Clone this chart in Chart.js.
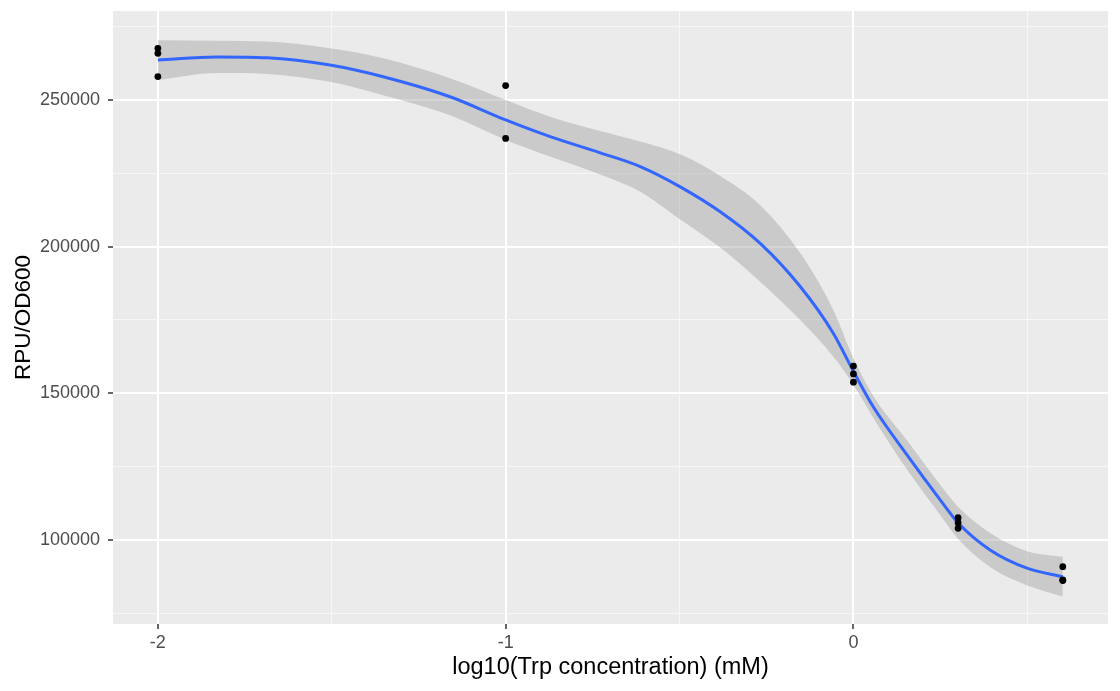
<!DOCTYPE html>
<html>
<head>
<meta charset="utf-8">
<script src="https://cdn.jsdelivr.net/npm/chart.js@4.4.1/dist/chart.umd.min.js"></script>
<style>
  body { margin: 0; background: #ffffff; }
  #wrap { width: 1120px; height: 691px; }
</style>
</head>
<body>
<div id="wrap"><canvas id="doseChart"></canvas></div>
<script>
// measured replicates
const pointX = [-2, -2, -2, -1, -1, 0, 0, 0, 0.301, 0.301, 0.301, 0.602, 0.602, 0.602];
const pointY = [267600, 265900, 258000, 254900, 236900, 159300, 156600, 153800, 107600, 105900, 104000, 90900, 86400, 86200];

// loess fit with confidence band
const curveX = [-2.0, -1.83, -1.686, -1.505, -1.352, -1.16, -1.0, -0.872, -0.728, -0.613, -0.498, -0.383, -0.268, -0.153, -0.058, 0, 0.057, 0.154, 0.25, 0.302, 0.393, 0.499, 0.602];
const curveFit = [263600, 264700, 264400, 261900, 257900, 251100, 243200, 237500, 232000, 227300, 220400, 211900, 201100, 186400, 170500, 157500, 145400, 129000, 113600, 105700, 96600, 90400, 87500];
const curveUpper = [270400, 270200, 269900, 267600, 264200, 257400, 250000, 244300, 239400, 235850, 231500, 224100, 214150, 197800, 178450, 162050, 149100, 134000, 118750, 111150, 102400, 96200, 94300];
const curveLower = [256800, 259200, 258900, 256200, 251600, 244800, 236400, 230700, 224600, 218750, 209300, 199700, 188050, 175000, 162550, 152950, 141700, 124000, 108450, 100250, 90800, 84600, 80700];

// axis breaks
const xMajor = [-2, -1, 0];
const xMinor = [-1.5, -0.5, 0.5];
const yMajor = [100000, 150000, 200000, 250000];
const yMinor = [75000, 125000, 175000, 225000, 275000];

const toXY = (xs, ys) => xs.map((x, i) => ({ x: x, y: ys[i] }));
const breaks = (major, minor) => major.concat(minor).sort((a, b) => a - b).map((v) => ({ value: v }));
const isMajor = (list, v) => list.some((m) => Math.abs(m - v) < 1e-9);

const fam = "'Liberation Sans', Arial, sans-serif";
const tickFont = { family: fam, size: 18 };

const panelBg = {
  id: "panelBg",
  beforeDraw(chart) {
    const a = chart.chartArea;
    chart.ctx.save();
    chart.ctx.fillStyle = "#EBEBEB";
    chart.ctx.fillRect(a.left, a.top, a.right - a.left, a.bottom - a.top);
    chart.ctx.restore();
  },
};

const doseChart = new Chart(document.getElementById("doseChart"), {
  type: "scatter",
  data: {
    datasets: [
      {
        label: "replicates",
        data: toXY(pointX, pointY),
        backgroundColor: "#000000",
        borderWidth: 0,
        pointRadius: 3.4,
      },
      {
        label: "fit",
        data: toXY(curveX, curveFit),
        showLine: true,
        borderColor: "#3366FF",
        borderWidth: 3,
        pointRadius: 0,
        cubicInterpolationMode: "monotone",
      },
      {
        label: "upper",
        data: toXY(curveX, curveUpper),
        showLine: true,
        borderColor: "transparent",
        pointRadius: 0,
        cubicInterpolationMode: "monotone",
        fill: "+1",
        backgroundColor: "rgba(153,153,153,0.4)",
      },
      {
        label: "lower",
        data: toXY(curveX, curveLower),
        showLine: true,
        borderColor: "transparent",
        pointRadius: 0,
        cubicInterpolationMode: "monotone",
        fill: false,
      },
    ],
  },
  options: {
    responsive: true,
    maintainAspectRatio: false,
    animation: false,
    layout: { padding: { top: 11, right: 12, left: 0, bottom: 0 } },
    plugins: {
      legend: { display: false },
      tooltip: { enabled: false },
    },
    scales: {
      x: {
        type: "linear",
        min: -2.129,
        max: 0.732,
        afterBuildTicks: (scale) => { scale.ticks = breaks(xMajor, xMinor); },
        afterFit: (scale) => {
          scale.height = 67;
          scale.paddingLeft = 0;
          scale.paddingRight = 0;
        },
        border: { display: false },
        grid: {
          color: (c) => (isMajor(xMajor, c.tick.value) ? "#FFFFFF" : "#F7F7F7"),
          lineWidth: (c) => (isMajor(xMajor, c.tick.value) ? 2 : 1),
          tickColor: (c) => (isMajor(xMajor, c.tick.value) ? "#333333" : "transparent"),
          tickLength: 5,
          tickWidth: 1.5,
        },
        ticks: {
          autoSkip: false,
          maxRotation: 0,
          padding: 3,
          color: "#4D4D4D",
          font: tickFont,
          callback: (v) => (isMajor(xMajor, v) ? String(v) : ""),
        },
        title: {
          display: true,
          text: "log10(Trp concentration) (mM)",
          color: "#000000",
          font: { family: fam, size: 23.5 },
          padding: { top: 0, bottom: 9 },
        },
      },
      y: {
        type: "linear",
        min: 71364,
        max: 280340,
        afterBuildTicks: (scale) => { scale.ticks = breaks(yMajor, yMinor); },
        afterFit: (scale) => {
          scale.width = 113;
          scale.paddingTop = 0;
          scale.paddingBottom = 0;
        },
        border: { display: false },
        grid: {
          color: (c) => (isMajor(yMajor, c.tick.value) ? "#FFFFFF" : "#F7F7F7"),
          lineWidth: (c) => (isMajor(yMajor, c.tick.value) ? 2 : 1),
          tickColor: (c) => (isMajor(yMajor, c.tick.value) ? "#333333" : "transparent"),
          tickLength: 5,
          tickWidth: 1.5,
        },
        ticks: {
          autoSkip: false,
          padding: 8,
          color: "#4D4D4D",
          font: tickFont,
          callback: (v) => (isMajor(yMajor, v) ? String(v) : ""),
        },
        title: {
          display: true,
          text: "RPU/OD600",
          color: "#000000",
          font: { family: fam, size: 22.5 },
          padding: { top: 10, bottom: 0 },
        },
      },
    },
  },
  plugins: [panelBg],
});
</script>
</body>
</html>
